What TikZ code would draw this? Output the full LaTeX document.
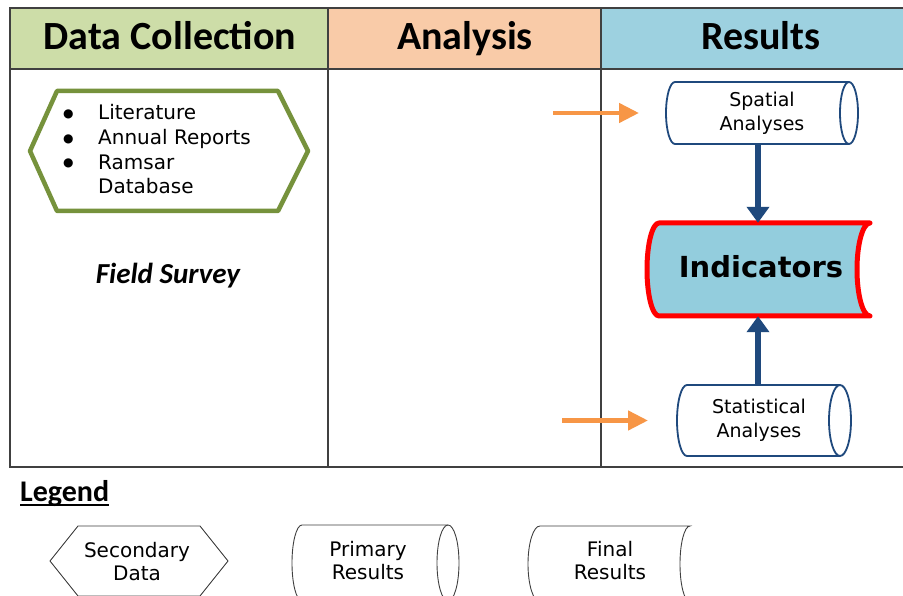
\documentclass[tikz,border=0pt]{standalone}
\usepackage{fontspec}
\setmainfont{DejaVu Sans}
\newfontfamily\hdr{Carlito}
\usetikzlibrary{arrows.meta}
\definecolor{hgreen}{HTML}{CDDDA8}
\definecolor{horange}{HTML}{F9CBA8}
\definecolor{hblue}{HTML}{9DD1E0}
\definecolor{olivec}{HTML}{76923C}
\definecolor{dblue}{HTML}{1F497D}
\definecolor{indfill}{HTML}{93CDDD}
\definecolor{orangearr}{HTML}{F79646}
\definecolor{gridc}{HTML}{404040}
\newcommand{\mybul}{\makebox[36pt][l]{\hspace{1pt}\raisebox{2.5pt}{\fontsize{12}{12}\selectfont ●}}}
\begin{document}
\begin{tikzpicture}[x=1pt,y=1pt,
  hdrtext/.style={font=\hdr\bfseries\fontsize{40}{40}\selectfont, inner sep=0, anchor=base},
  gridline/.style={draw=gridc, line width=1.2pt},
  cyl/.style={draw=dblue, line width=1.8pt},
  bodytext/.style={font=\fontsize{19}{24}\selectfont, align=center, inner sep=0},
  legshape/.style={draw=gridc, line width=0.9pt},
  legtext/.style={font=\fontsize{20}{23}\selectfont, align=center, inner sep=0},
  bluearrow/.style={draw=dblue, line width=6pt, -{Triangle[width=22pt,length=16pt]}},
  orangearrow/.style={draw=orangearr, line width=4.5pt, -{Triangle[width=19pt,length=20pt]}},
]
\clip (0,0) rectangle (903,595);
\fill[white] (0,0) rectangle (903,595);

% header cells
\fill[hgreen] (10,526) rectangle (328,587);
\fill[horange] (328,526) rectangle (601,587);
\fill[hblue] (601,526) rectangle (925,587);
\draw[gridline] (10,128) rectangle (925,587);
\draw[draw=gridc, line width=2pt] (10,587) -- (925,587);
\draw[gridline] (10,526) -- (925,526);
\draw[gridline] (328,128) -- (328,587);
\draw[gridline] (601,128) -- (601,587);

\node[hdrtext] (h1) at (170,545) {Data Collection};
\node[hdrtext] (h2) at (465,545) {Analysis};
\node[hdrtext] (h3) at (761,545) {Results};

% secondary data hexagon
\draw[olivec, line width=4.5pt, line join=round]
  (30,444) -- (57,504) -- (278,504) -- (308,444) -- (278,384) -- (57,384) -- cycle;
\node[font=\fontsize{20}{24.7}\selectfont, align=left, anchor=base west, inner sep=0] (seclist) at (62,401)
  {\mybul Literature\\ \mybul Annual Reports\\ \mybul Ramsar\\ \makebox[36pt][l]{}Database};

\node[font=\hdr\bfseries\itshape\fontsize{29}{29}\selectfont, anchor=base, inner sep=0] (fs) at (168,311) {Field Survey};

% spatial analyses cylinder
\draw[cyl] (849,513) -- (675,513) arc[start angle=90, end angle=270, x radius=9, y radius=31] -- (849,451);
\draw[cyl] (849,482) ellipse[x radius=9, y radius=31];
\node[bodytext, minimum height=62pt] (sp) at (762,482) {Spatial\\Analyses};

% indicators
\draw[red, line width=5pt, fill=indfill, line join=round]
  (659,372) -- (870,372) arc[start angle=90, end angle=270, x radius=13, y radius=46.5]
  -- (659,279) arc[start angle=270, end angle=90, x radius=12, y radius=46.5] -- cycle;
\node[inner sep=0, minimum width=223pt, minimum height=93pt] (ind) at (758,325.5) {};
\node[font=\bfseries\fontsize{29}{29}\selectfont, anchor=base, inner sep=0] (indt) at (761,317) {Indicators};

% statistical analyses cylinder
\draw[cyl] (840,210) -- (687,210) arc[start angle=90, end angle=270, x radius=10, y radius=35.5] -- (840,139);
\draw[cyl] (840,174.5) ellipse[x radius=11, y radius=35.5];
\node[bodytext, minimum height=71pt] (st) at (759,174.5) {Statistical\\Analyses};

% arrows
\draw[bluearrow] (ind.north |- sp.south) -- (ind.north);
\draw[bluearrow] (ind.south |- st.north) -- (ind.south);
\coordinate (o1a) at (553,482);
\coordinate (o1b) at (639,482);
\coordinate (o2a) at (562,174.5);
\coordinate (o2b) at (648,174.5);
\draw[orangearrow] (o1a) -- (o1b);
\draw[orangearrow] (o2a) -- (o2b);

% legend
\node[font=\hdr\bfseries\fontsize{30}{30}\selectfont, anchor=base west, inner sep=0] (leg) at (20,93) {Legend};
\draw[line width=2pt] ([yshift=-3pt]leg.base west) -- ([yshift=-3pt]leg.base east);

\draw[legshape] (50,34) -- (78,69) -- (200,69) -- (228,34) -- (200,-1) -- (78,-1) -- cycle;
\node[legtext] (lsec) at (137,33) {Secondary\\Data};

\draw[legshape] (448,70) -- (302,70) arc[start angle=90, end angle=270, x radius=10, y radius=38] -- (448,-6);
\draw[legshape] (448,32) ellipse[x radius=11, y radius=38];
\node[legtext] (lpri) at (368,34) {Primary\\Results};

\draw[legshape] (540,69) -- (690,69) arc[start angle=90, end angle=270, x radius=10, y radius=38]
  -- (540,-7) arc[start angle=270, end angle=90, x radius=12, y radius=38] -- cycle;
\node[legtext] (lfin) at (610,34) {Final\\Results};
\end{tikzpicture}
\end{document}
